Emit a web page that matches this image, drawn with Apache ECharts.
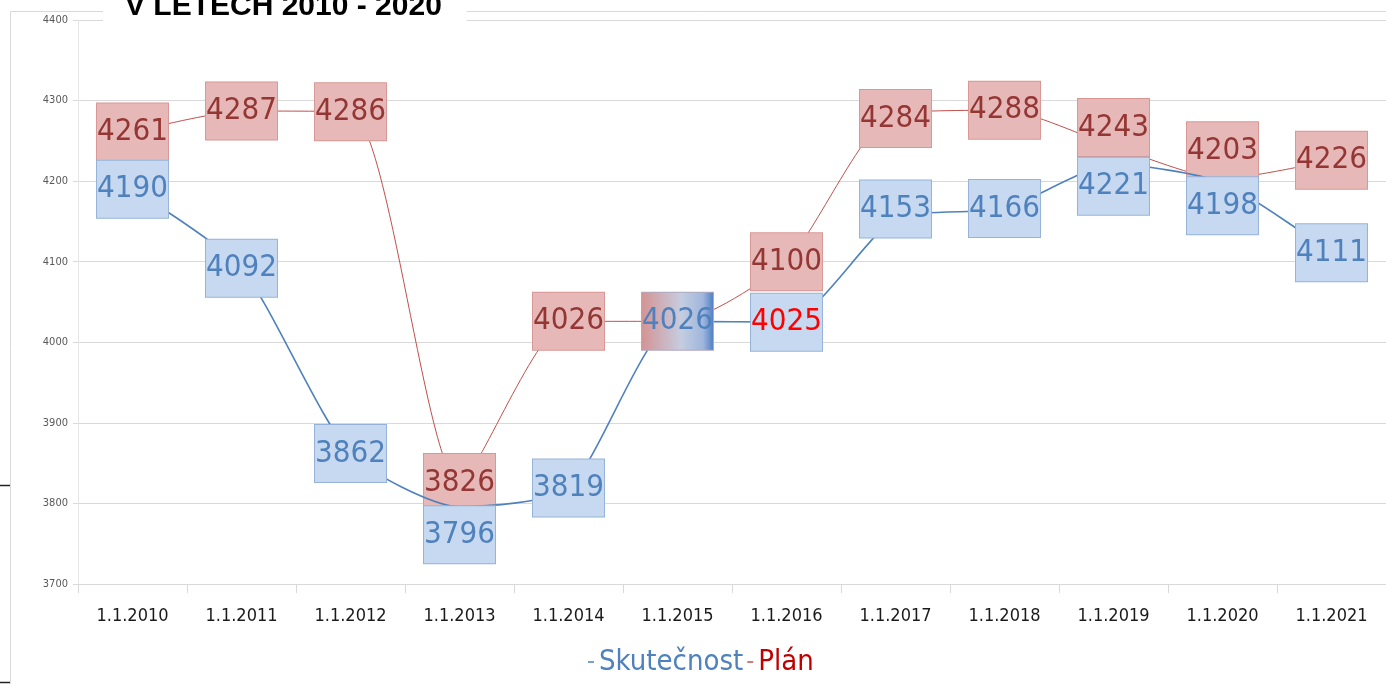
<!DOCTYPE html>
<html>
<head>
<meta charset="utf-8">
<script src="https://cdn.jsdelivr.net/npm/echarts@6/dist/echarts.min.js"></script>
<style>
html,body{margin:0;padding:0;background:#fff;}
#chart{width:1386px;height:684px;}
</style>
</head>
<body>
<div id="chart"></div>
<script>
var categories = ['1.1.2010','1.1.2011','1.1.2012','1.1.2013','1.1.2014','1.1.2015','1.1.2016','1.1.2017','1.1.2018','1.1.2019','1.1.2020','1.1.2021'];
var skutecnost = [4190,4092,3862,3796,3819,4026,4025,4153,4166,4221,4198,4111];
var plan = [4261,4287,4286,3826,4026,4026,4100,4284,4288,4243,4203,4226];
var titleText = 'V LETECH 2010 - 2020';
var seriesNames = ['Skutečnost','Plán'];

var FONT = '"DejaVu Sans Condensed","Liberation Sans Narrow","Arial Narrow",sans-serif';

var blueLabel = {
  show: true, position: 'inside', fontFamily: FONT, fontSize: 31, lineHeight: 31,
  color: '#4f81bd', backgroundColor: '#c6d9f1', borderColor: '#95b3d7', borderWidth: 1,
  padding: [14, 0, 12, 0]
};
var redLabel = {
  show: true, position: 'inside', fontFamily: FONT, fontSize: 31, lineHeight: 31,
  color: '#943634', backgroundColor: '#e6b9b8', borderColor: '#d99694', borderWidth: 1,
  padding: [14, 0, 12, 0]
};

var blueOffsets = {3: [0, 28], 7: [0, -10], 9: [0, 22], 10: [0, 23]};
var redOffsets = {7: [0, 5], 9: [0, -19], 10: [0, -28]};

var blueData = skutecnost.map(function (v, i) {
  var item = {value: v};
  var lab = {};
  if (blueOffsets[i]) lab.offset = blueOffsets[i];
  if (i === 5) {
    lab.backgroundColor = new echarts.graphic.LinearGradient(0, 0, 1, 0, [
      {offset: 0, color: '#d49292'},
      {offset: 0.55, color: '#c5cde0'},
      {offset: 0.85, color: '#9fb6dc'},
      {offset: 1, color: '#4a7cc4'}
    ]);
    lab.borderColor = '#b0a8c0';
  }
  if (i === 6) lab.color = '#ff0000';
  item.label = lab;
  return item;
});
var redData = plan.map(function (v, i) {
  var item = {value: v};
  var lab = {};
  if (redOffsets[i]) lab.offset = redOffsets[i];
  if (i === 5) lab.show = false;
  item.label = lab;
  return item;
});

var chart = echarts.init(document.getElementById('chart'), null, {renderer: 'canvas'});
chart.setOption({
  backgroundColor: '#fff',
  animation: false,
  title: {
    text: titleText,
    left: 103, top: -17,
    padding: [9, 25, 4, 22],
    backgroundColor: '#fff',
    textStyle: {fontFamily: '"Liberation Sans",Arial,sans-serif', fontWeight: 'bold', fontSize: 30, lineHeight: 30, color: '#000'}
  },
  legend: {
    data: [
      {name: seriesNames[0], textStyle: {color: '#4f81bd'}},
      {name: seriesNames[1], textStyle: {color: '#c00000'}}
    ],
    left: 588, top: 646, padding: 0,
    icon: 'rect', itemWidth: 6, itemHeight: 1.5, itemGap: 4,
    textStyle: {fontFamily: FONT, fontSize: 29, lineHeight: 32}
  },
  graphic: [
    {type: 'rect', silent: true, z: -1, shape: {x: 10.5, y: 11.5, width: 1500, height: 800}, style: {fill: 'none', stroke: '#d9d9d9', lineWidth: 1}},
    {type: 'line', silent: true, shape: {x1: 0, y1: 485.5, x2: 10, y2: 485.5}, style: {stroke: '#222', lineWidth: 1.5}},
    {type: 'line', silent: true, shape: {x1: 0, y1: 682.5, x2: 10, y2: 682.5}, style: {stroke: '#222', lineWidth: 1.5}}
  ],
  grid: {left: 78, right: -19, top: 20, bottom: 100, containLabel: false},
  xAxis: {
    type: 'category', data: categories, boundaryGap: true,
    axisLine: {lineStyle: {color: '#d9d9d9'}},
    axisTick: {show: true, length: 9, interval: 0, lineStyle: {color: '#d9d9d9'}},
    axisLabel: {interval: 0, fontFamily: FONT, fontSize: 18, color: '#1a1a1a', margin: 23}
  },
  yAxis: {
    type: 'value', min: 3700, max: 4400, interval: 100,
    axisLine: {show: true, lineStyle: {color: '#e6e6e6'}},
    axisTick: {show: true, length: 5, lineStyle: {color: '#d9d9d9'}},
    axisLabel: {fontFamily: FONT, fontSize: 11, color: '#595959', margin: 10, formatter: function (v) { return String(v); }},
    splitLine: {lineStyle: {color: '#d9d9d9'}}
  },
  series: [
    {
      name: seriesNames[0], type: 'line', data: blueData, smooth: 0.22,
      symbol: 'circle', symbolSize: 0.01, showSymbol: true,
      itemStyle: {color: '#4f81bd'},
      lineStyle: {color: '#4f81bd', width: 1.6},
      label: blueLabel, z: 3
    },
    {
      name: seriesNames[1], type: 'line', data: redData, smooth: 0.22,
      symbol: 'circle', symbolSize: 0.01, showSymbol: true,
      itemStyle: {color: '#c0504d'},
      lineStyle: {color: '#c0504d', width: 1},
      label: redLabel, z: 2
    }
  ]
});
</script>
</body>
</html>
